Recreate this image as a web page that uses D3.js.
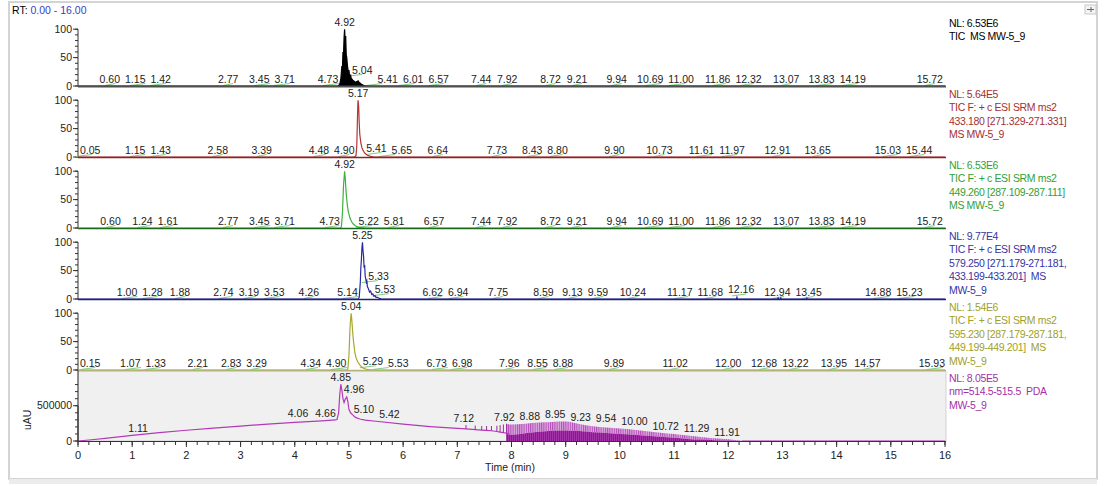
<!DOCTYPE html>
<html><head><meta charset="utf-8">
<script src="https://cdn.jsdelivr.net/npm/d3@7"></script>
<style>
body{margin:0;background:#fff;}
svg text{font-family:"Liberation Sans",Arial,sans-serif;}
</style></head><body>
<svg id="chart" width="1104" height="486"></svg>
<script>
// ---------------- DATA ----------------
const rtRange = [0, 16];
const pctTicks = [0, 50, 100];
const pdaTicks = [0, 500000];

// TIC (panel 1) – relative abundance %
const traceTIC = [[0,0],[4.80,0],[4.83,3],[4.85,12],[4.87,35],[4.88,30],[4.89,60],[4.90,55],[4.91,85],[4.92,100],[4.93,80],[4.94,88],[4.95,55],[4.96,50],[4.97,38],[4.98,30],[4.99,25],[5.00,28],[5.01,18],[5.02,16],[5.03,20],[5.04,14],[5.05,13],[5.07,10],[5.09,9],[5.11,7],[5.13,7],[5.15,8],[5.17,9],[5.19,6],[5.21,5],[5.23,3],[5.25,2],[5.28,0.5],[5.32,0],[16,0]];
const trace433 = [[0,0],[5.10,0],[5.13,2],[5.145,20],[5.155,60],[5.165,95],[5.17,100],[5.18,88],[5.19,60],[5.20,40],[5.22,25],[5.24,16],[5.27,10],[5.30,6],[5.34,3],[5.40,1],[5.46,0],[16,0]];
const trace449 = [[0,0],[4.84,0],[4.86,2],[4.88,25],[4.90,75],[4.92,100],[4.93,90],[4.95,60],[4.97,40],[4.99,28],[5.02,17],[5.05,11],[5.08,7],[5.12,4],[5.16,2],[5.22,0.5],[5.30,0],[16,0]];
const trace579 = [[0,0],[5.17,0],[5.19,3],[5.21,30],[5.22,55],[5.23,70],[5.24,90],[5.25,100],[5.26,85],[5.27,75],[5.28,55],[5.29,60],[5.30,40],[5.31,36],[5.32,30],[5.33,32],[5.34,22],[5.36,18],[5.38,12],[5.40,14],[5.42,8],[5.44,9],[5.46,5],[5.48,6],[5.50,3],[5.53,3],[5.56,1],[5.60,0],[12.15,0],[12.16,3],[12.17,0],[12.91,0],[12.92,2],[12.93,0],[12.96,0],[12.97,2],[12.98,0],[13.44,0],[13.45,1.5],[13.46,0],[16,0]];
const trace595 = [[0,0],[4.96,0],[4.98,2],[5.00,25],[5.02,75],[5.04,100],[5.05,92],[5.07,65],[5.09,45],[5.11,30],[5.13,22],[5.16,15],[5.20,9],[5.25,4],[5.30,2],[5.36,0.5],[5.42,0],[16,0]];

// PDA (panel 6) – uAU
const tracePDA = [[0,0],[0.25,18000],[0.5,38000],[1.0,80000],[1.5,118000],[2.0,152000],[2.5,183000],[3.0,212000],[3.5,240000],[4.0,265000],[4.5,285000],[4.75,298000],[4.78,305000],[4.81,400000],[4.83,650000],[4.85,805000],[4.87,720000],[4.89,600000],[4.91,545000],[4.93,590000],[4.96,625000],[4.98,560000],[5.00,450000],[5.03,400000],[5.07,370000],[5.12,335000],[5.2,312000],[5.3,296000],[5.5,280000],[6.0,240000],[6.5,205000],[7.0,178000],[7.16,172000],[7.33,162000],[7.45,155000],[7.54,150000],[7.63,145000],[7.73,135000],[7.79,125000],[7.85,118000],[7.91,110000],[7.96,100000]];
const pdaSpikes = [[7.16,172000,226000],[7.33,162000,218000],[7.45,155000,212000],[7.54,150000,212000],[7.63,145000,212000],[7.73,135000,216000],[7.79,125000,226000],[7.85,118000,235000],[7.91,110000,245000]];
const pdaEnvTimes = [7.9,8.0,8.25,8.5,8.75,9.0,9.25,9.5,9.75,10.0,10.25,10.5,10.75,11.0,11.25,11.5,11.75,12.0,12.25];
const pdaUpper = [240000,235000,245000,262000,270000,275000,240000,210000,192000,178000,160000,138000,118000,98000,78000,58000,40000,24000,0];
const pdaDense = [100000,90000,110000,130000,145000,150000,140000,125000,115000,100000,90000,75000,60000,45000,30000,20000,12000,6000,0];

// peak labels [RT, height]
const labelsTIC = [[0.60,0],[1.15,0],[1.42,0],[2.77,0],[3.45,0],[3.71,0],[4.73,0],[4.92,100],[5.04,16],[5.41,0],[6.01,0],[6.57,0],[7.44,0],[7.92,0],[8.72,0],[9.21,0],[9.94,0],[10.69,0],[11.00,0],[11.86,0],[12.32,0],[13.07,0],[13.83,0],[14.19,0],[15.72,0]];
const labels433 = [[0.05,0],[1.15,0],[1.43,0],[2.58,0],[3.39,0],[4.48,0],[4.90,0],[5.17,100],[5.41,3.5],[5.65,0],[6.64,0],[7.73,0],[8.43,0],[8.80,0],[9.90,0],[10.73,0],[11.61,0],[11.97,0],[12.91,0],[13.65,0],[15.03,0],[15.44,0]];
const labels449 = [[0.60,0],[1.24,0],[1.61,0],[2.77,0],[3.45,0],[3.71,0],[4.73,0],[4.92,100],[5.22,0],[5.81,0],[6.57,0],[7.44,0],[7.92,0],[8.72,0],[9.21,0],[9.94,0],[10.69,0],[11.00,0],[11.86,0],[12.32,0],[13.07,0],[13.83,0],[14.19,0],[15.72,0]];
const labels579 = [[1.00,0],[1.28,0],[1.88,0],[2.74,0],[3.19,0],[3.53,0],[4.26,0],[5.14,0],[5.25,100],[5.33,28],[5.53,5],[6.62,0],[6.94,0],[7.75,0],[8.59,0],[9.13,0],[9.59,0],[10.24,0],[11.17,0],[11.68,0],[12.16,4.5],[12.94,0],[13.45,0],[14.88,0],[15.23,0]];
const labels595 = [[0.15,0],[1.07,0],[1.33,0],[2.21,0],[2.83,0],[3.29,0],[4.34,0],[4.90,0],[5.04,100],[5.29,3],[5.53,0],[6.73,0],[6.98,0],[7.96,0],[8.55,0],[8.88,0],[9.89,0],[11.02,0],[12.00,0],[12.68,0],[13.22,0],[13.95,0],[14.57,0],[15.93,0]];
const labelsPDA = [[1.11,85000],[4.06,292000],[4.66,292000],[4.85,805000],[4.96,635000],[5.10,353000],[5.42,282000],[7.12,226000],[7.92,240000],[8.88,262000],[8.95,290000],[9.23,245000],[9.54,222000],[10.00,190000],[10.72,120000],[11.29,78000],[11.91,22000]];

// right-hand info text
const infoTIC = ["NL: 6.53E6","TIC  MS MW-5_9"];
const info433 = ["NL: 5.64E5","TIC F: + c ESI SRM ms2","433.180 [271.329-271.331]","MS MW-5_9"];
const info449 = ["NL: 6.53E6","TIC F: + c ESI SRM ms2","449.260 [287.109-287.111]","MS MW-5_9"];
const info579 = ["NL: 9.77E4","TIC F: + c ESI SRM ms2","579.250 [271.179-271.181,","433.199-433.201]  MS","MW-5_9"];
const info595 = ["NL: 1.54E6","TIC F: + c ESI SRM ms2","595.230 [287.179-287.181,","449.199-449.201]  MS","MW-5_9"];
const infoPDA = ["NL: 8.05E5","nm=514.5-515.5  PDA","MW-5_9"];
const pdaMax = 805000;

// ---------------- LAYOUT ----------------
const svg = d3.select("#chart");
const FS = 10.5;
const x = d3.scaleLinear().domain(rtRange).range([78, 945]);
const top0 = 15, panelH = 71;

// frame
svg.append("rect").attr("x",9).attr("y",2).attr("width",1088).attr("height",477)
  .attr("fill","none").attr("stroke","#d4d4d4").attr("stroke-width",2);
svg.append("rect").attr("x",9).attr("y",479).attr("width",1088).attr("height",5).attr("fill","#ececec");

// pin icon
const pin = svg.append("g").attr("transform","translate(1085,5)");
pin.append("rect").attr("x",0).attr("y",0).attr("width",11).attr("height",9).attr("fill","#f4f4f4").attr("stroke","#c8c8c8");
pin.append("line").attr("x1",2).attr("x2",9).attr("y1",4.5).attr("y2",4.5).attr("stroke","#666");
pin.append("line").attr("x1",6).attr("x2",6).attr("y1",2).attr("y2",7).attr("stroke","#666");

// RT text
const rt = svg.append("text").attr("x",12).attr("y",14).attr("font-size",FS);
rt.append("tspan").attr("fill","#000").text("RT: ");
rt.append("tspan").attr("fill","#3a3ac8").text(`${rtRange[0].toFixed(2)} - ${rtRange[1].toFixed(2)}`);

const panels = [
  {trace:traceTIC, labels:labelsTIC, info:infoTIC, line:"#000", base:"#505050", text:"#000", fill:true},
  {trace:trace433, labels:labels433, info:info433, line:"#b53535", base:"#7e2a2a", text:"#a53030"},
  {trace:trace449, labels:labels449, info:info449, line:"#40b040", base:"#1c6a1c", text:"#34a034"},
  {trace:trace579, labels:labels579, info:info579, line:"#2828a0", base:"#22226e", text:"#3434a4"},
  {trace:trace595, labels:labels595, info:info595, line:"#a8a832", base:"#b4b478", text:"#a0a02a"}
];

// obstacle points along a polyline (pixel space), every ~1px
function polyPoints(pts) {
  const out = [];
  for (let i=1;i<pts.length;i++){
    const [x1,y1]=pts[i-1],[x2,y2]=pts[i];
    const n = Math.max(1, Math.ceil(Math.hypot(x2-x1,y2-y1)));
    for (let k=0;k<=n;k++) out.push({x:x1+(x2-x1)*k/n, y:y1+(y2-y1)*k/n});
  }
  return out;
}

function drawLabels(g, labels, y, xs, obstacles) {
  const H = 9, HS = 10, PAD = 5, XMIN = 80, XMAX = 945;
  const apex = labels.reduce((m,d)=>d[1]>m[1]?d:m, labels[0]);
  const apexX = xs(apex[0]);
  const items = labels.map(([t, v]) => {
    const px = xs(t), py = y(v);
    const txt = g.append("text").attr("y",py-3).attr("text-anchor","middle")
      .attr("font-size",FS).attr("fill","#222").text(t.toFixed(2));
    return {t, v, x0:px, x:px, yb:py-3, py, w:txt.node().getComputedTextLength(), txt,
            dir: px >= apexX ? 1 : -1, isApex: t===apex[0]};
  });
  const sep = () => {
    items.sort((a,b)=>a.x-b.x);
    for (let i=0;i<items.length;i++) for (let j=i+1;j<items.length;j++){
      const a=items[i], b=items[j];
      if (a.yb-HS >= b.yb || b.yb-HS >= a.yb) continue;
      const need = (a.w+b.w)/2 + PAD - (b.x-a.x);
      if (need>0){ a.x-=need/2; b.x+=need/2; }
    }
    items.forEach(a=>{ a.x = Math.max(XMIN+a.w/2, Math.min(XMAX-a.w/2, a.x)); });
  };
  for (let it=0; it<120; it++) {
    items.forEach(a=>{
      if (a.isApex) return;
      obstacles.forEach(p=>{
        if (p.y > a.yb-H-1 && p.y < a.yb+1.5 && Math.abs(p.x-a.x) < a.w/2+1.5) {
          a.x = a.dir>0 ? p.x + a.w/2 + 1.5 : p.x - a.w/2 - 1.5;
        }
      });
    });
    sep();
  }
  for (let it=0; it<40; it++) sep();
  items.forEach(a=>{
    a.txt.attr("x",a.x);
    if (a.v < 60) {
      const x1 = Math.min(a.x0, a.x) - 5, x2 = Math.max(a.x0, a.x) + 5;
      g.insert("line","text").attr("x1",x1).attr("y1",a.py-0.5).attr("x2",Math.min(x2, x1+16)).attr("y2",a.yb+0.5)
        .attr("stroke","#7fcf7f").attr("stroke-width",1);
    }
  });
}

function drawInfo(lines, color, yStart) {
  lines.forEach((s,i)=>{
    svg.append("text").attr("x",949).attr("y",yStart + i*13.6).attr("font-size",FS)
      .attr("letter-spacing","-0.35px").style("white-space","pre").attr("fill",color).text(s);
  });
}

function drawYAxis(g, y, majors, minors, fmt) {
  g.append("line").attr("x1",78).attr("x2",78).attr("y1",y(0)).attr("y2",y(majors[majors.length-1])).attr("stroke","#333");
  minors.forEach(v=>g.append("line").attr("x1",75).attr("x2",78).attr("y1",y(v)).attr("y2",y(v)).attr("stroke","#333"));
  majors.forEach(v=>{
    g.append("line").attr("x1",73).attr("x2",78).attr("y1",y(v)).attr("y2",y(v)).attr("stroke","#333");
    g.append("text").attr("x",72).attr("y",y(v)).attr("dy","0.35em").attr("text-anchor","end")
      .attr("font-size",FS).attr("fill","#222").text(fmt(v));
  });
}

panels.forEach((p, i) => {
  const base = top0 + panelH*(i+1);
  const y = d3.scaleLinear().domain([0,125]).range([base, base-panelH]);
  const g = svg.append("g");
  drawYAxis(g, y, pctTicks, d3.range(0,101,10), d=>d);
  const line = d3.line().x(d=>x(d[0])).y(d=>y(d[1]));
  if (p.fill) {
    g.append("path").datum(p.trace).attr("d", d3.area().x(d=>x(d[0])).y0(y(0)).y1(d=>y(d[1]))).attr("fill","#000");
  }
  g.append("path").datum(p.trace).attr("d",line).attr("fill","none").attr("stroke",p.line).attr("stroke-width",1.2);
  g.append("line").attr("x1",78).attr("x2",946).attr("y1",base+0.5).attr("y2",base+0.5)
    .attr("stroke",p.base).attr("stroke-width",i===0?2:1.6);
  drawLabels(g, p.labels, y, x, polyPoints(p.trace.map(d=>[x(d[0]),y(d[1])])));
  drawInfo(p.info, p.text, base-panelH+11.5);
});

// ---------------- PDA panel ----------------
const pBase = top0 + panelH*6;
const yP = d3.scaleLinear().domain([0, pdaMax*1.25]).range([pBase, pBase-panelH]);
const gP = svg.append("g");
gP.append("rect").attr("x",78).attr("y",pBase-panelH+1.5).attr("width",868).attr("height",panelH-1.5)
  .attr("fill","#f0f0f0").attr("stroke","#c8c8c8").attr("stroke-width",0.8);

const defs = svg.append("defs");
const pl = defs.append("pattern").attr("id","lightSp").attr("width",2.2).attr("height",4).attr("patternUnits","userSpaceOnUse");
pl.append("rect").attr("width",2.2).attr("height",4).attr("fill","#dca8df");
pl.append("rect").attr("width",1).attr("height",4).attr("fill","#b24cb8");
const pd = defs.append("pattern").attr("id","darkSp").attr("width",2).attr("height",4).attr("patternUnits","userSpaceOnUse");
pd.append("rect").attr("width",2).attr("height",4).attr("fill","#8c168f");
pd.append("rect").attr("width",0.8).attr("height",4).attr("fill","#a93aad");

const env = pdaEnvTimes.map((t,i)=>({t, up:pdaUpper[i], dn:pdaDense[i]}));
gP.append("path").datum(env).attr("d", d3.area().x(d=>x(d.t)).y0(d=>yP(d.dn)).y1(d=>yP(d.up)).curve(d3.curveMonotoneX))
  .attr("fill","url(#lightSp)");
gP.append("path").datum(env).attr("d", d3.area().x(d=>x(d.t)).y0(yP(0)).y1(d=>yP(d.dn)).curve(d3.curveMonotoneX))
  .attr("fill","url(#darkSp)");

gP.append("path").datum(tracePDA).attr("d", d3.line().x(d=>x(d[0])).y(d=>yP(d[1])))
  .attr("fill","none").attr("stroke","#b23ab8").attr("stroke-width",1.2);
pdaSpikes.forEach(([t,b,tp])=>{
  gP.append("line").attr("x1",x(t)).attr("x2",x(t)).attr("y1",yP(b)).attr("y2",yP(tp)).attr("stroke","#9a2a9e").attr("stroke-width",1);
});
gP.append("line").attr("x1",x(12.25)).attr("x2",x(16)).attr("y1",yP(0)).attr("y2",yP(0)).attr("stroke","#b23ab8");

// PDA y axis
drawYAxis(gP, yP, pdaTicks, d3.range(0,800001,100000), d=>d);
gP.append("line").attr("x1",78).attr("x2",78).attr("y1",yP(0)).attr("y2",pBase-panelH).attr("stroke","#333");
svg.append("text").attr("transform",`translate(31,${yP(300000)}) rotate(-90)`).attr("text-anchor","middle")
  .attr("font-size",FS).attr("fill","#222").text("uAU");

// x axis
gP.append("line").attr("x1",78).attr("x2",946).attr("y1",pBase+0.5).attr("y2",pBase+0.5).attr("stroke","#333");
d3.range(0,16.01,0.2).forEach(t=>{
  gP.append("line").attr("x1",x(t)).attr("x2",x(t)).attr("y1",pBase).attr("y2",pBase+4).attr("stroke","#333");
});
x.ticks(16).forEach(t=>{
  gP.append("line").attr("x1",x(t)).attr("x2",x(t)).attr("y1",pBase).attr("y2",pBase+6).attr("stroke","#333");
  gP.append("text").attr("x",x(t)).attr("y",pBase+18).attr("text-anchor","middle").attr("font-size",FS+0.5).attr("fill","#222").text(t);
});
svg.append("text").attr("x",510).attr("y",pBase+30).attr("text-anchor","middle").attr("font-size",FS).attr("fill","#222").text("Time (min)");

const pdaObs = polyPoints(tracePDA.map(d=>[x(d[0]),yP(d[1])]))
  .concat(polyPoints(env.map(d=>[x(d.t),yP(d.up)])))
  .concat(pdaSpikes.map(([t,b,tp])=>({x:x(t),y:yP(tp)})));
drawLabels(gP, labelsPDA, yP, x, pdaObs);
drawInfo(infoPDA, "#a530a8", pBase-panelH+11.5);
</script>
</body></html>
